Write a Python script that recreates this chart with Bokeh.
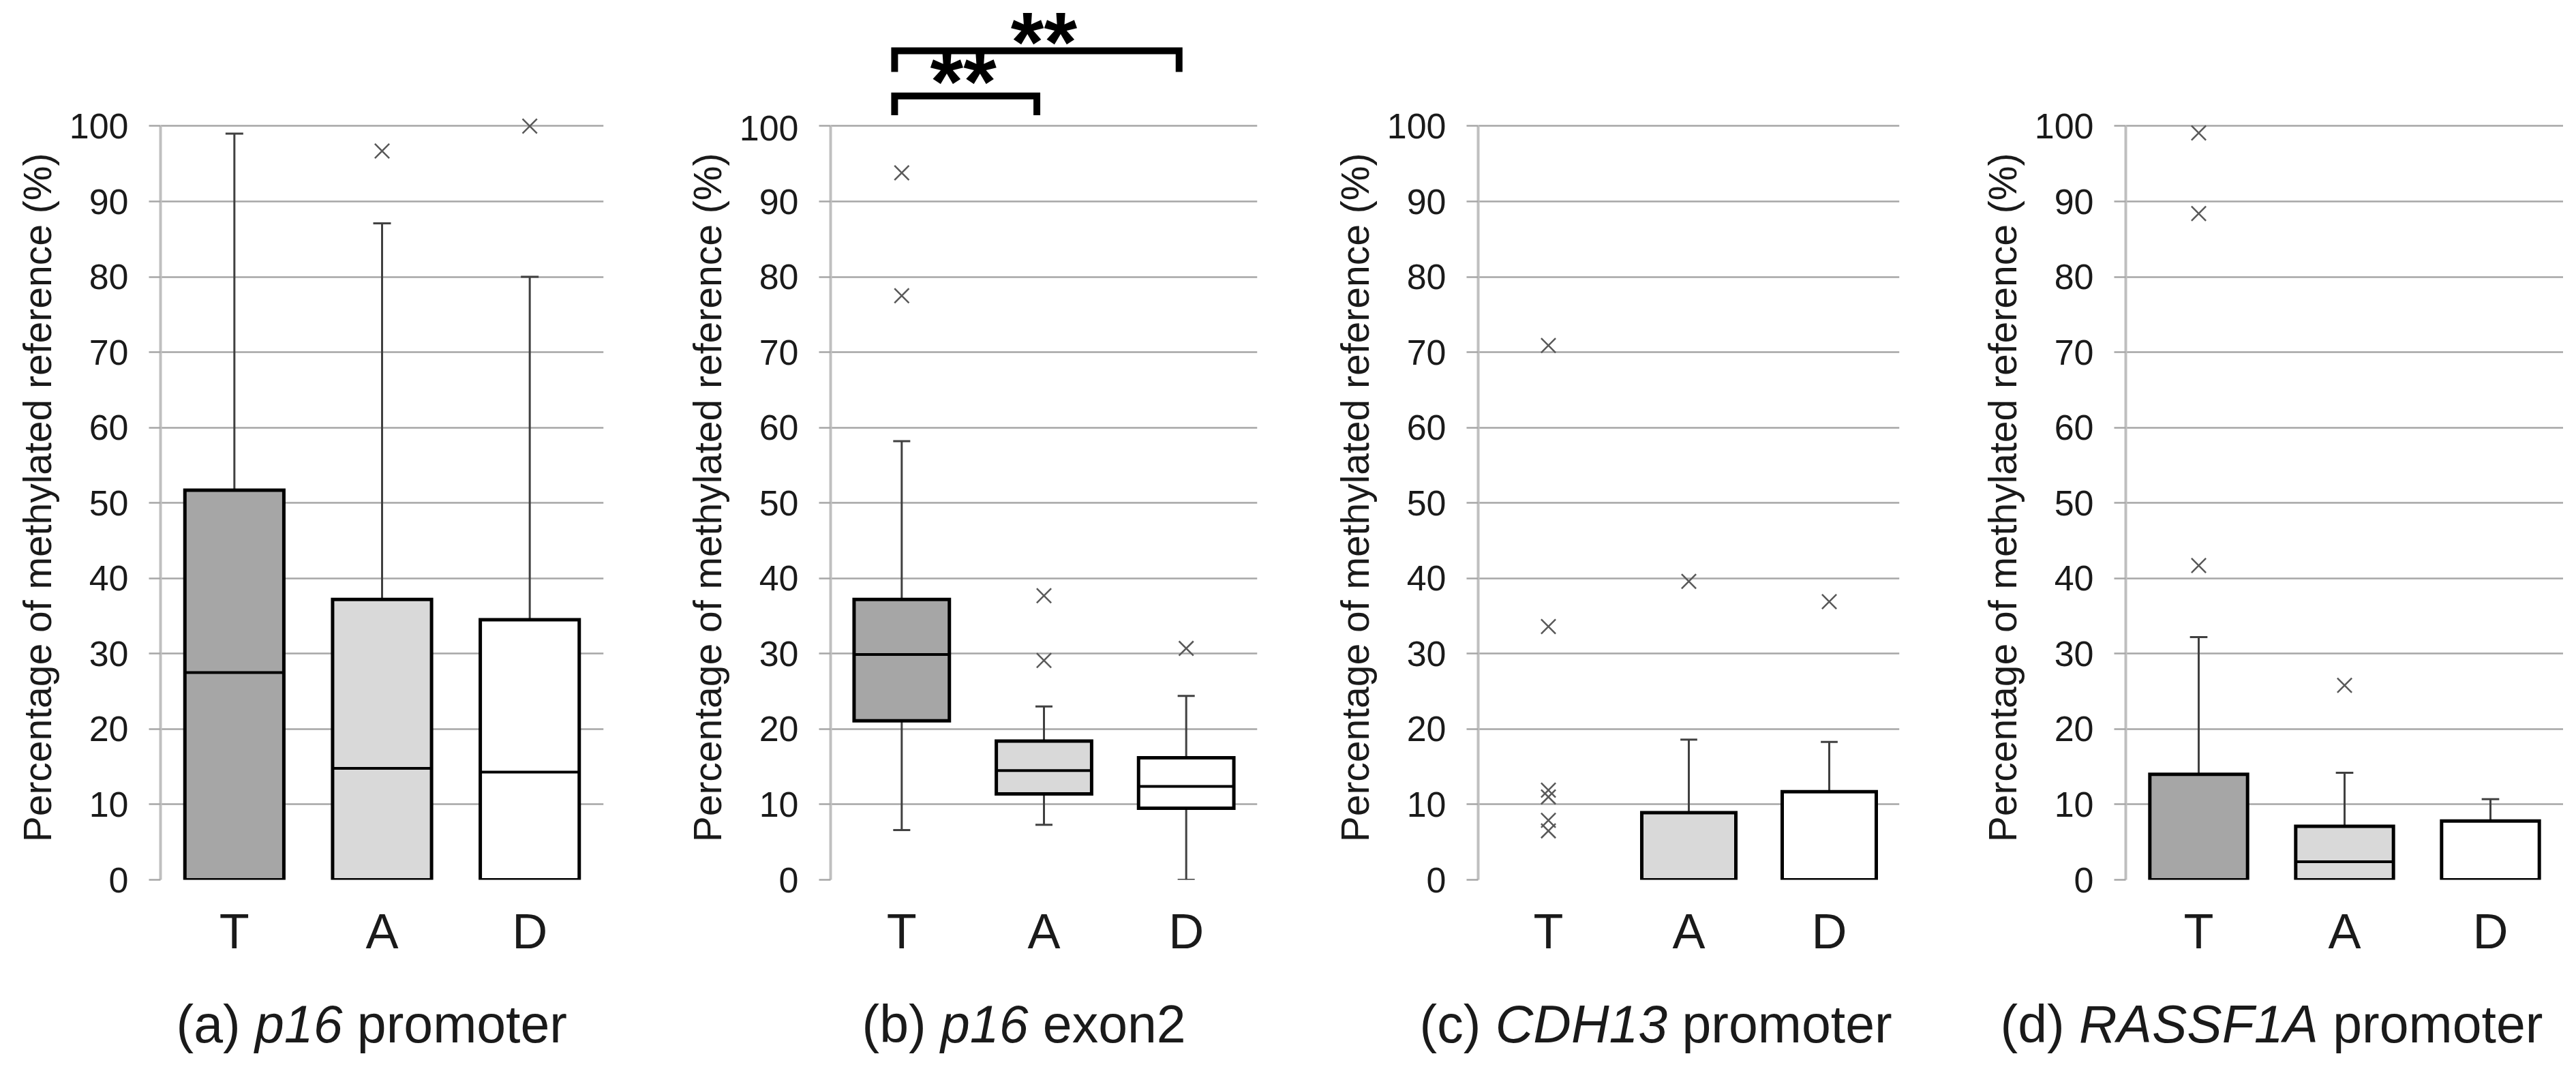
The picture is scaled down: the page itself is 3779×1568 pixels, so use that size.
from bokeh.plotting import figure
from bokeh.models import FactorRange, Range1d, FixedTicker, Label, ColumnDataSource
from bokeh.transform import dodge
from bokeh.layouts import row, column
from bokeh.embed import file_html
from bokeh.resources import INLINE

# ---------------- data ----------------
groups = ["T", "A", "D"]
fills = ["#a6a6a6", "#d9d9d9", "#ffffff"]
y_ticks = [0, 10, 20, 30, 40, 50, 60, 70, 80, 90, 100]
y_title = "Percentage of methylated reference (%)"

# (a) p16 promoter
a_lo = [0.0, 0.0, 0.0]
a_q1 = [0.0, 0.0, 0.0]
a_med = [27.5, 14.8, 14.3]
a_q3 = [51.7, 37.2, 34.5]
a_hi = [99.0, 87.1, 80.0]
a_out_g = ["A", "D"]
a_out_v = [96.7, 100.0]

# (b) p16 exon2
b_lo = [6.6, 7.3, 0.0]
b_q1 = [21.1, 11.4, 9.5]
b_med = [29.9, 14.5, 12.4]
b_q3 = [37.2, 18.4, 16.2]
b_hi = [58.2, 23.0, 24.4]
b_out_g = ["T", "T", "A", "A", "D"]
b_out_v = [93.8, 77.5, 37.7, 29.1, 30.7]

# (c) CDH13 promoter
c_lo = [0.0, 0.0, 0.0]
c_q1 = [0.0, 0.0, 0.0]
c_med = [0.0, 0.0, 0.0]
c_q3 = [0.0, 8.9, 11.7]
c_hi = [0.0, 18.6, 18.3]
c_out_g = ["T", "T", "T", "T", "T", "T", "A", "D"]
c_out_v = [70.9, 33.6, 11.9, 11.0, 7.9, 6.5, 39.6, 36.9]

# (d) RASSF1A promoter
d_lo = [0.0, 0.0, 0.0]
d_q1 = [0.0, 0.0, 0.0]
d_med = [0.0, 2.4, 0.0]
d_q3 = [14.0, 7.1, 7.8]
d_hi = [32.2, 14.2, 10.7]
d_out_g = ["T", "T", "T", "A"]
d_out_v = [99.1, 88.4, 41.7, 25.8]

# significance brackets in panel (b)
sig_from = ["T", "T"]
sig_to = ["A", "D"]
sig_bar_y = [104.0, 110.0]
sig_leg_y = [101.3, 107.2]
sig_text = ["**", "**"]
sig_text_y = [105.9, 111.2]
sig_text_dx = [-14, 0]

sub_a = [("(a)", "normal"), ("p16", "italic"), ("promoter", "normal")]
sub_b = [("(b)", "normal"), ("p16", "italic"), ("exon2", "normal")]
sub_c = [("(c)", "normal"), ("CDH13", "italic"), ("promoter", "normal")]
sub_d = [("(d)", "normal"), ("RASSF1A", "italic"), ("promoter", "normal")]

# ---------------- style / layout ----------------
FONT = "Liberation Sans"
TXT = "#1a1a1a"
TOP_H = 169          # space above the plot frame
FRAME_H = 1121       # plot frame height
BOT_H = 120          # space for the category labels
CAP_H = 146          # caption strip
CAP_TOP = TOP_H + FRAME_H + BOT_H
Y_TOP = 101.4
PPU = FRAME_H / Y_TOP
SUB_SIZE = 77
CW = {'(': .333, ')': .333, 'a': .556, 'b': .556, 'c': .5, 'd': .556, ' ': .278,
      'p': .556, '1': .556, '6': .556, 'r': .333, 'o': .556, 'm': .833, 't': .278,
      'e': .556, 'x': .5, 'n': .556, '2': .556, 'C': .722, 'D': .722, 'H': .722,
      '3': .556, 'R': .722, 'A': .667, 'S': .667, 'F': .611}


def tw(s):
    return sum(CW.get(ch, .556) for ch in s) * SUB_SIZE


def blank(w, h, bl, br, xr, yr):
    p = figure(x_range=xr, y_range=yr, width=w, height=h, output_backend="svg",
               toolbar_location=None, x_axis_location=None, y_axis_location=None,
               min_border_left=bl, min_border_right=br, min_border_top=0, min_border_bottom=0)
    p.outline_line_color = None
    p.grid.grid_line_color = None
    p.background_fill_color = "white"
    p.border_fill_color = "white"
    return p


def panel(lo, q1, med, q3, hi, out_g, out_v, fig_w, bl, br, sig=False):
    top = 0 if sig else TOP_H
    p = figure(x_range=FactorRange(*groups), y_range=Range1d(0, Y_TOP),
               width=fig_w, height=top + FRAME_H + BOT_H, output_backend="svg",
               toolbar_location=None, min_border_left=bl, min_border_right=br,
               min_border_top=top, min_border_bottom=BOT_H)
    p.outline_line_color = None
    p.background_fill_color = "white"
    p.border_fill_color = "white"
    p.xgrid.grid_line_color = None
    p.ygrid.ticker = FixedTicker(ticks=y_ticks)
    p.ygrid.grid_line_color = "#a6a6a6"
    p.ygrid.grid_line_width = 2.5

    ya = p.yaxis[0]
    ya.ticker = FixedTicker(ticks=y_ticks)
    ya.bounds = (0, 100)
    ya.axis_line_color = "#bfbfbf"
    ya.axis_line_width = 4
    ya.major_tick_line_color = "#a6a6a6"
    ya.major_tick_line_width = 2.5
    ya.major_tick_out = 17
    ya.major_tick_in = 0
    ya.minor_tick_line_color = None
    ya.major_label_standoff = 30
    ya.major_label_text_font = FONT
    ya.major_label_text_font_size = "52px"
    ya.major_label_text_color = TXT
    ya.axis_label = y_title
    ya.axis_label_standoff = 12
    ya.axis_label_text_font = FONT
    ya.axis_label_text_font_size = "57px"
    ya.axis_label_text_font_style = "normal"
    ya.axis_label_text_color = TXT

    xa = p.xaxis[0]
    xa.axis_line_color = None
    xa.major_tick_line_color = None
    xa.minor_tick_line_color = None
    xa.major_label_standoff = 29
    xa.major_label_text_font = FONT
    xa.major_label_text_font_size = "72px"
    xa.major_label_text_color = TXT

    # upper whiskers
    up = [i for i in range(3) if hi[i] > q3[i]]
    su = ColumnDataSource(dict(g=[groups[i] for i in up], a=[q3[i] for i in up], b=[hi[i] for i in up]))
    p.segment(x0="g", y0="a", x1="g", y1="b", source=su, line_color="#404040", line_width=3)
    p.segment(x0=dodge("g", -0.06, range=p.x_range), y0="b", x1=dodge("g", 0.06, range=p.x_range),
              y1="b", source=su, line_color="#404040", line_width=3)
    # lower whiskers
    dn = [i for i in range(3) if lo[i] < q1[i]]
    sd = ColumnDataSource(dict(g=[groups[i] for i in dn], a=[q1[i] for i in dn], b=[lo[i] for i in dn]))
    p.segment(x0="g", y0="a", x1="g", y1="b", source=sd, line_color="#404040", line_width=3)
    p.segment(x0=dodge("g", -0.06, range=p.x_range), y0="b", x1=dodge("g", 0.06, range=p.x_range),
              y1="b", source=sd, line_color="#404040", line_width=3)
    # boxes
    bx = [i for i in range(3) if q3[i] > q1[i]]
    sb = ColumnDataSource(dict(g=[groups[i] for i in bx], q1=[q1[i] for i in bx],
                               q3=[q3[i] for i in bx], f=[fills[i] for i in bx]))
    p.vbar(x="g", bottom="q1", top="q3", width=0.67, source=sb, fill_color="f",
           line_color="black", line_width=5, line_join="miter")
    # medians
    md = [i for i in range(3) if q3[i] > med[i] > q1[i]]
    sm = ColumnDataSource(dict(g=[groups[i] for i in md], m=[med[i] for i in md]))
    p.segment(x0=dodge("g", -0.335, range=p.x_range), y0="m", x1=dodge("g", 0.335, range=p.x_range),
              y1="m", source=sm, line_color="black", line_width=4)
    # outliers
    p.scatter(x=out_g, y=out_v, marker="x", size=30, line_color="#595959", line_width=2.5)

    if not sig:
        return p
    q = blank(fig_w, TOP_H, bl, br, FactorRange(*groups), Range1d(Y_TOP, Y_TOP + TOP_H / PPU))
    for k in range(len(sig_from)):
        g0, g1 = sig_from[k], sig_to[k]
        src = ColumnDataSource(dict(g=[g0, g0, g1, g1],
                                    y=[sig_leg_y[k], sig_bar_y[k], sig_bar_y[k], sig_leg_y[k]]))
        q.line(x=dodge("g", -0.05, range=q.x_range), y="y", source=src,
               line_color="black", line_width=10, line_join="miter")
        xm = (groups.index(g0) + groups.index(g1)) / 2 + 0.5
        q.add_layout(Label(x=xm, y=sig_text_y[k], x_offset=sig_text_dx[k], text=sig_text[k],
                           text_align="center", text_baseline="alphabetic", text_font=FONT,
                           text_font_style="bold", text_font_size="125px", text_color="black"))
    return column(q, p, spacing=0)


pa = panel(a_lo, a_q1, a_med, a_q3, a_hi, a_out_g, a_out_v, 1002, 235, 117)
pb = panel(b_lo, b_q1, b_med, b_q3, b_hi, b_out_g, b_out_v, 950, 198, 108, sig=True)
pc = panel(c_lo, c_q1, c_med, c_q3, c_hi, c_out_g, c_out_v, 950, 201, 116)
pd = panel(d_lo, d_q1, d_med, d_q3, d_hi, d_out_g, d_out_v, 858, 208, 0)
PAGE_W = 1002 + 950 + 950 + 858

# caption strip: x / y in layout pixels
cap = blank(PAGE_W, CAP_H, 0, 0, Range1d(0, PAGE_W), Range1d(CAP_TOP + CAP_H, CAP_TOP))
for sub, left in [(sub_a, 258), (sub_b, 1264), (sub_c, 2082), (sub_d, 2934)]:
    off = left
    for txt, style in sub:
        cap.add_layout(Label(x=off, y=1501, text=txt, text_align="left",
                             text_baseline="alphabetic", text_font=FONT, text_font_style=style,
                             text_font_size=f"{SUB_SIZE}px", text_color=TXT))
        off += tw(txt + " ")

layout = column(row(pa, pb, pc, pd, spacing=0), cap, spacing=0)
open("out.html", "w").write(file_html(layout, INLINE))
